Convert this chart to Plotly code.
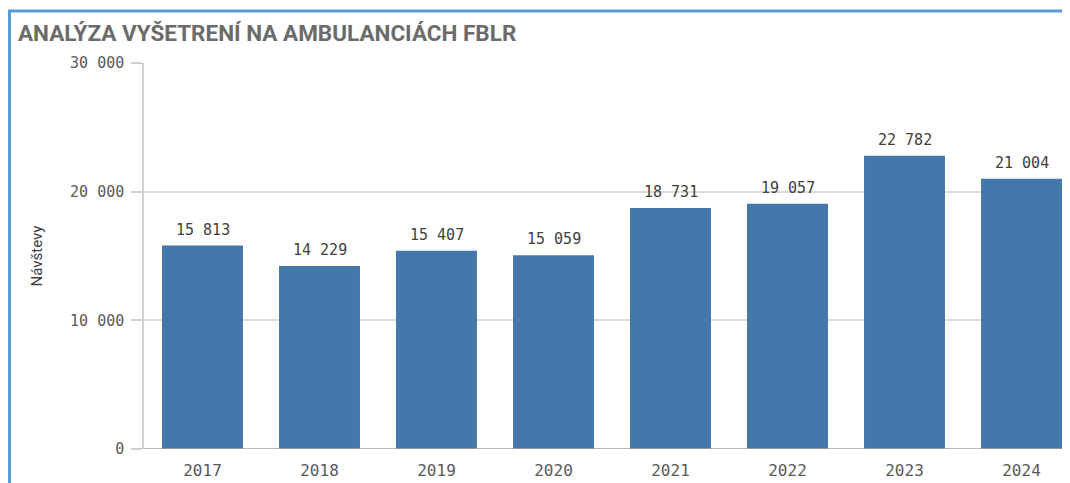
import plotly.graph_objects as go

years = ["2017", "2018", "2019", "2020", "2021", "2022", "2023", "2024"]
visits = [15813, 14229, 15407, 15059, 18731, 19057, 22782, 21004]
y_ticks = [0, 10000, 20000, 30000]
y_tick_labels = ["0", "10 000", "20 000", "30 000"]
title_text = "ANALÝZA VYŠETRENÍ NA AMBULANCIÁCH FBLR"
y_title = "Návštevy"

OFF = 8  # page body margin
W, H = 1070 - OFF, 483 - OFF
L, T = 144 - OFF, 63 - OFF
B = H - (449 - OFF)
R = 0
pw, ph = W - L - R, H - T - B

def px_x(px):
    return (px - OFF - L) / pw

def px_y(py):
    return (H - B - (py - OFF)) / ph

def fmt(v):
    return f"{v:,}".replace(",", " ")

fig = go.Figure()
fig.add_trace(go.Bar(
    x=list(range(len(years))),
    y=visits,
    width=0.692,
    marker=dict(color="#4477AA", line=dict(width=0)),
    hoverinfo="skip",
))

annotations = [
    dict(x=i, y=v, xref="x", yref="y", text=fmt(v), showarrow=False,
         yanchor="bottom", yshift=5,
         font=dict(family="DejaVu Sans Mono", size=15, color="#404040"))
    for i, v in enumerate(visits)
]

fig.update_layout(
    width=W, height=H,
    margin=dict(l=L, r=R, t=T, b=B, pad=0),
    paper_bgcolor="white", plot_bgcolor="white",
    showlegend=False,
    title=dict(text=f"<b>{title_text}</b>", x=(18 - OFF) / W, xanchor="left",
               xref="container",
               y=1 - (33 - OFF) / H, yanchor="middle", yref="container",
               font=dict(family="Roboto, sans-serif", size=22.5, color="#6b6b6b")),
    annotations=annotations,
    xaxis=dict(
        range=[-0.5, -0.5 + pw / 117.0],
        tickmode="array", tickvals=list(range(len(years))), ticktext=years,
        tickfont=dict(family="DejaVu Sans Mono", size=16, color="#595959"),
        showgrid=False, zeroline=False, showline=False, ticks="",
        ticklabelstandoff=10,
        fixedrange=True,
    ),
    yaxis=dict(
        range=[0, 30000],
        tickmode="array", tickvals=y_ticks, ticktext=y_tick_labels,
        tickfont=dict(family="DejaVu Sans Mono", size=15, color="#595959"),
        showgrid=True, gridcolor="#dcdcdc", gridwidth=1.5,
        zeroline=False,
        showline=True, linecolor="#d0d0d0", linewidth=1.5,
        ticks="outside", ticklen=11, tickcolor="#d0d0d0", tickwidth=1.5,
        ticklabelstandoff=4,
        title=dict(text=y_title, standoff=24,
                   font=dict(family="Roboto, sans-serif", size=15, color="#404040")),
        fixedrange=True,
    ),
    shapes=[
        dict(type="line", xref="paper", yref="y", x0=0, x1=1, y0=0, y1=0,
             line=dict(color="#a0a0a0", width=1.5)),
        dict(type="line", xref="paper", yref="paper", x0=px_x(8), x1=px_x(1075),
             y0=px_y(11), y1=px_y(11), line=dict(color="#5B9BD5", width=3)),
        dict(type="line", xref="paper", yref="paper", x0=px_x(9.5), x1=px_x(9.5),
             y0=px_y(11), y1=px_y(490), line=dict(color="#5B9BD5", width=3)),
    ],
)

fig.write_html("out.html")
